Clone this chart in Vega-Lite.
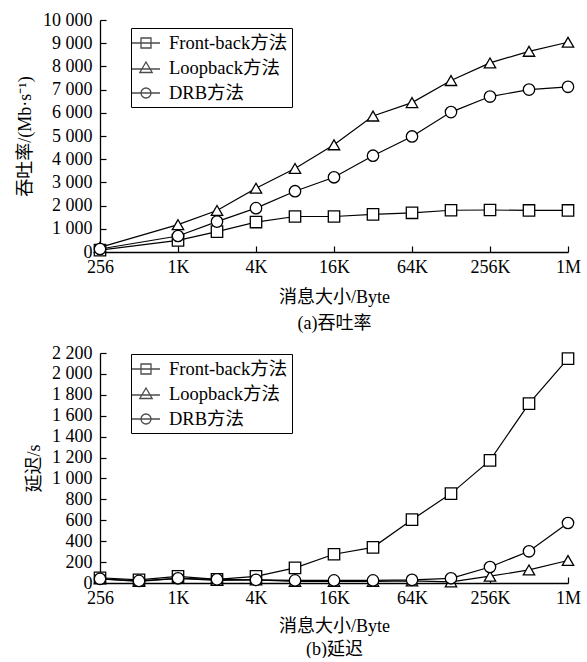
{
  "$schema": "https://vega.github.io/schema/vega-lite/v6.json",
  "padding": {"left": 16, "top": 11, "right": 4, "bottom": 0},
  "spacing": 12,
  "background": "white",
  "config": {
    "font": "Liberation Serif, Noto Sans CJK SC",
    "view": {"stroke": null},
    "axis": {
      "grid": false,
      "domainColor": "black",
      "domainWidth": 1.3,
      "tickColor": "black",
      "tickWidth": 1.2,
      "tickSize": -6,
      "labelColor": "black",
      "titleColor": "black",
      "labelFont": "Liberation Serif, Noto Sans CJK SC",
      "titleFont": "Liberation Serif, Noto Sans CJK SC",
      "labelFontSize": 18,
      "titleFontSize": 18,
      "titleFontWeight": "normal",
      "labelFlush": false,
      "labelOverlap": false
    },
    "legend": {
      "labelFont": "Liberation Serif, Noto Sans CJK SC",
      "labelFontSize": 18.5,
      "labelColor": "black"
    }
  },
  "datasets": {
    "thr": [
      {"size": 256, "method": "Front-back方法", "value": 80},
      {"size": 1024, "method": "Front-back方法", "value": 500},
      {"size": 2048, "method": "Front-back方法", "value": 880},
      {"size": 4096, "method": "Front-back方法", "value": 1290},
      {"size": 8192, "method": "Front-back方法", "value": 1530},
      {"size": 16384, "method": "Front-back方法", "value": 1530},
      {"size": 32768, "method": "Front-back方法", "value": 1620},
      {"size": 65536, "method": "Front-back方法", "value": 1690},
      {"size": 131072, "method": "Front-back方法", "value": 1800},
      {"size": 262144, "method": "Front-back方法", "value": 1810},
      {"size": 524288, "method": "Front-back方法", "value": 1790},
      {"size": 1048576, "method": "Front-back方法", "value": 1790},
      {"size": 256, "method": "Loopback方法", "value": 200},
      {"size": 1024, "method": "Loopback方法", "value": 1180},
      {"size": 2048, "method": "Loopback方法", "value": 1790},
      {"size": 4096, "method": "Loopback方法", "value": 2750},
      {"size": 8192, "method": "Loopback方法", "value": 3600},
      {"size": 16384, "method": "Loopback方法", "value": 4620},
      {"size": 32768, "method": "Loopback方法", "value": 5860},
      {"size": 65536, "method": "Loopback方法", "value": 6440},
      {"size": 131072, "method": "Loopback方法", "value": 7390},
      {"size": 262144, "method": "Loopback方法", "value": 8150},
      {"size": 524288, "method": "Loopback方法", "value": 8650},
      {"size": 1048576, "method": "Loopback方法", "value": 9040},
      {"size": 256, "method": "DRB方法", "value": 130},
      {"size": 1024, "method": "DRB方法", "value": 690},
      {"size": 2048, "method": "DRB方法", "value": 1310},
      {"size": 4096, "method": "DRB方法", "value": 1890},
      {"size": 8192, "method": "DRB方法", "value": 2620},
      {"size": 16384, "method": "DRB方法", "value": 3220},
      {"size": 32768, "method": "DRB方法", "value": 4150},
      {"size": 65536, "method": "DRB方法", "value": 4980},
      {"size": 131072, "method": "DRB方法", "value": 6030},
      {"size": 262144, "method": "DRB方法", "value": 6700},
      {"size": 524288, "method": "DRB方法", "value": 7000},
      {"size": 1048576, "method": "DRB方法", "value": 7120}
    ],
    "lat": [
      {"size": 256, "method": "Front-back方法", "value": 50},
      {"size": 512, "method": "Front-back方法", "value": 30},
      {"size": 1024, "method": "Front-back方法", "value": 63},
      {"size": 2048, "method": "Front-back方法", "value": 35},
      {"size": 4096, "method": "Front-back方法", "value": 63},
      {"size": 8192, "method": "Front-back方法", "value": 145},
      {"size": 16384, "method": "Front-back方法", "value": 275},
      {"size": 32768, "method": "Front-back方法", "value": 341},
      {"size": 65536, "method": "Front-back方法", "value": 606},
      {"size": 131072, "method": "Front-back方法", "value": 855},
      {"size": 262144, "method": "Front-back方法", "value": 1173},
      {"size": 524288, "method": "Front-back方法", "value": 1716},
      {"size": 1048576, "method": "Front-back方法", "value": 2146},
      {"size": 256, "method": "Loopback方法", "value": 40},
      {"size": 512, "method": "Loopback方法", "value": 15},
      {"size": 1024, "method": "Loopback方法", "value": 45},
      {"size": 2048, "method": "Loopback方法", "value": 25},
      {"size": 4096, "method": "Loopback方法", "value": 30},
      {"size": 8192, "method": "Loopback方法", "value": 15},
      {"size": 16384, "method": "Loopback方法", "value": 15},
      {"size": 32768, "method": "Loopback方法", "value": 15},
      {"size": 65536, "method": "Loopback方法", "value": 20},
      {"size": 131072, "method": "Loopback方法", "value": 10},
      {"size": 262144, "method": "Loopback方法", "value": 65},
      {"size": 524288, "method": "Loopback方法", "value": 125},
      {"size": 1048576, "method": "Loopback方法", "value": 215},
      {"size": 256, "method": "DRB方法", "value": 40},
      {"size": 512, "method": "DRB方法", "value": 20},
      {"size": 1024, "method": "DRB方法", "value": 45},
      {"size": 2048, "method": "DRB方法", "value": 35},
      {"size": 4096, "method": "DRB方法", "value": 30},
      {"size": 8192, "method": "DRB方法", "value": 25},
      {"size": 16384, "method": "DRB方法", "value": 25},
      {"size": 32768, "method": "DRB方法", "value": 25},
      {"size": 65536, "method": "DRB方法", "value": 30},
      {"size": 131072, "method": "DRB方法", "value": 45},
      {"size": 262144, "method": "DRB方法", "value": 153},
      {"size": 524288, "method": "DRB方法", "value": 303},
      {"size": 1048576, "method": "DRB方法", "value": 574}
    ]
  },
  "vconcat": [
    {
      "width": 468,
      "height": 232,
      "data": {"name": "thr"},
      "encoding": {
        "x": {
          "field": "size", "type": "quantitative",
          "scale": {"type": "log", "base": 2, "domain": [256, 1048576], "nice": false},
          "axis": {
            "values": [256, 1024, 4096, 16384, 65536, 262144, 1048576],
            "labelExpr": "datum.value >= 1048576 ? '1M' : datum.value >= 1024 ? (datum.value / 1024) + 'K' : datum.value + ''",
            "labelPadding": 12,
            "titlePadding": 12,
            "titleLineHeight": 26,
            "title": ["消息大小/Byte", "(a)吞吐率"]
          }
        },
        "y": {
          "field": "value", "type": "quantitative",
          "scale": {"domain": [0, 10000], "nice": false},
          "axis": {
            "values": [0, 1000, 2000, 3000, 4000, 5000, 6000, 7000, 8000, 9000, 10000],
            "labelExpr": "replace(format(datum.value, ','), regexp(',', 'g'), ' ')",
            "labelPadding": 14,
            "titlePadding": 8,
            "title": "吞吐率/(Mb·s⁻¹)"
          }
        }
      },
      "layer": [
        {
          "mark": {"type": "line", "color": "black", "strokeWidth": 1.2},
          "encoding": {"detail": {"field": "method"}}
        },
        {
          "mark": {"type": "point", "filled": true, "fill": "white", "stroke": "black", "strokeWidth": 1.3, "size": 130, "opacity": 1},
          "encoding": {
            "shape": {
              "field": "method",
              "scale": {"domain": ["Front-back方法", "Loopback方法", "DRB方法"], "range": ["square", "triangle-up", "circle"]},
              "legend": null
            }
          }
        },
        {
          "transform": [{"filter": "false"}],
          "mark": {"type": "point", "filled": false, "color": "black", "strokeWidth": 1.3},
          "encoding": {
            "shape": {
              "field": "method",
              "scale": {
                "domain": ["Front-back方法", "Loopback方法", "DRB方法"],
                "range": [
                  "M-1.4,0H1.4M-0.5,-0.5H0.5V0.5H-0.5Z",
                  "M-1.4,0.1H1.4M0,-0.6L0.62,0.45H-0.62Z",
                  "M-1.4,0H1.4M0.5,0A0.5,0.5,0,1,1,-0.5,0A0.5,0.5,0,1,1,0.5,0Z"
                ]
              },
              "legend": {
                "title": null,
                "orient": "none",
                "legendX": 31,
                "legendY": 8,
                "symbolSize": 400,
                "symbolStrokeColor": "black",
                "symbolStrokeWidth": 1.3,
                "symbolFillColor": "transparent",
                "labelOffset": 12,
                "rowPadding": 4,
                "padding": 4,
                "labelLimit": 300,
                "strokeColor": "black",
                "fillColor": "white"
              }
            }
          }
        }
      ],
      "resolve": {"scale": {"shape": "independent"}}
    },
    {
      "width": 468,
      "height": 230,
      "data": {"name": "lat"},
      "encoding": {
        "x": {
          "field": "size", "type": "quantitative",
          "scale": {"type": "log", "base": 2, "domain": [256, 1048576], "nice": false},
          "axis": {
            "values": [256, 1024, 4096, 16384, 65536, 262144, 1048576],
            "labelExpr": "datum.value >= 1048576 ? '1M' : datum.value >= 1024 ? (datum.value / 1024) + 'K' : datum.value + ''",
            "labelPadding": 12,
            "titlePadding": 10,
            "titleLineHeight": 23,
            "title": ["消息大小/Byte", "(b)延迟"]
          }
        },
        "y": {
          "field": "value", "type": "quantitative",
          "scale": {"domain": [0, 2200], "nice": false},
          "axis": {
            "values": [0, 200, 400, 600, 800, 1000, 1200, 1400, 1600, 1800, 2000, 2200],
            "labelExpr": "replace(format(datum.value, ','), regexp(',', 'g'), ' ')",
            "labelPadding": 14,
            "titlePadding": 8,
            "title": "延迟/s"
          }
        }
      },
      "layer": [
        {
          "mark": {"type": "line", "color": "black", "strokeWidth": 1.2},
          "encoding": {"detail": {"field": "method"}}
        },
        {
          "mark": {"type": "point", "filled": true, "fill": "white", "stroke": "black", "strokeWidth": 1.3, "size": 130, "opacity": 1},
          "encoding": {
            "shape": {
              "field": "method",
              "scale": {"domain": ["Front-back方法", "Loopback方法", "DRB方法"], "range": ["square", "triangle-up", "circle"]},
              "legend": null
            }
          }
        },
        {
          "transform": [{"filter": "false"}],
          "mark": {"type": "point", "filled": false, "color": "black", "strokeWidth": 1.3},
          "encoding": {
            "shape": {
              "field": "method",
              "scale": {
                "domain": ["Front-back方法", "Loopback方法", "DRB方法"],
                "range": [
                  "M-1.4,0H1.4M-0.5,-0.5H0.5V0.5H-0.5Z",
                  "M-1.4,0.1H1.4M0,-0.6L0.62,0.45H-0.62Z",
                  "M-1.4,0H1.4M0.5,0A0.5,0.5,0,1,1,-0.5,0A0.5,0.5,0,1,1,0.5,0Z"
                ]
              },
              "legend": {
                "title": null,
                "orient": "none",
                "legendX": 31,
                "legendY": 1,
                "symbolSize": 400,
                "symbolStrokeColor": "black",
                "symbolStrokeWidth": 1.3,
                "symbolFillColor": "transparent",
                "labelOffset": 12,
                "rowPadding": 4,
                "padding": 4,
                "labelLimit": 300,
                "strokeColor": "black",
                "fillColor": "white"
              }
            }
          }
        }
      ],
      "resolve": {"scale": {"shape": "independent"}}
    }
  ]
}
